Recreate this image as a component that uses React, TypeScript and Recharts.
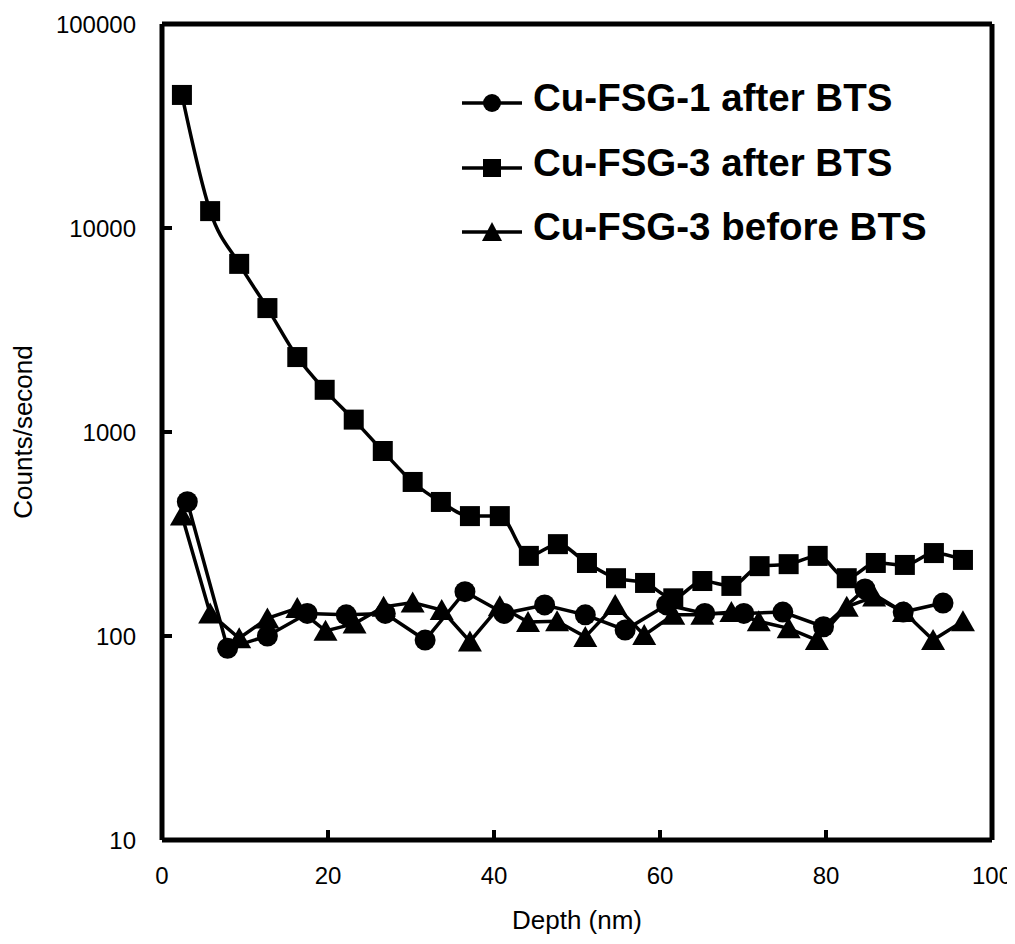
import React from 'react';
import { LineChart, Line, XAxis, YAxis, ReferenceLine, Legend, Label } from 'recharts';

const FONT = '"Liberation Sans", Arial, sans-serif';

// Cu-FSG-1 after BTS (circles)
const fsg1AfterDepth = [3.05, 7.9, 12.7, 17.5, 22.2, 26.9, 31.7, 36.5, 41.2, 46.1, 51.0, 55.8, 60.8, 65.4, 70.1, 74.8, 79.7, 84.7, 89.3, 94.1];
const fsg1AfterCounts = [455, 87, 100, 129, 127, 129, 95.5, 165, 129, 142, 127, 107, 142, 129, 129, 131, 111, 170, 131, 145];

// Cu-FSG-3 after BTS (squares)
const fsg3AfterDepth = [2.4, 5.8, 9.3, 12.7, 16.3, 19.6, 23.1, 26.6, 30.2, 33.6, 37.1, 40.7, 44.2, 47.7, 51.2, 54.7, 58.2, 61.6, 65.1, 68.6, 72.0, 75.5, 79.0, 82.5, 86.0, 89.5, 93.0, 96.5];
const fsg3AfterCounts = [44900, 12100, 6670, 4050, 2330, 1610, 1150, 807, 569, 454, 387, 387, 247, 282, 228, 192, 182, 153, 186, 176, 220, 225, 247, 192, 228, 223, 255, 236];

// Cu-FSG-3 before BTS (triangles)
const fsg3BeforeDepth = [2.4, 5.8, 9.3, 12.7, 16.3, 19.7, 23.2, 26.7, 30.2, 33.7, 37.1, 40.7, 44.1, 47.6, 51.0, 54.6, 58.1, 61.6, 65.1, 68.6, 71.9, 75.5, 78.9, 82.5, 85.8, 89.4, 92.9, 96.5];
const fsg3BeforeCounts = [390, 129, 97.5, 122, 137, 106, 115, 139, 146, 134, 94, 140, 117, 118, 99, 142, 101, 127, 127, 131, 118, 109, 95.5, 139, 156, 131, 95.5, 118];

const xTicks = [0, 20, 40, 60, 80, 100];
const yTicks = [10, 100, 1000, 10000, 100000];

const seriesNames = ['Cu-FSG-1 after BTS', 'Cu-FSG-3 after BTS', 'Cu-FSG-3 before BTS'];

const toRows = (xs: number[], ys: number[]) => xs.map((x, i) => ({ x, y: ys[i] }));
const fsg1After = toRows(fsg1AfterDepth, fsg1AfterCounts);
const fsg3After = toRows(fsg3AfterDepth, fsg3AfterCounts);
const fsg3Before = toRows(fsg3BeforeDepth, fsg3BeforeCounts);

const CircleDot = (p: any) =>
  p.cx == null ? null : <circle key={`c${p.index}`} cx={p.cx} cy={p.cy} r={10.5} fill="#000" />;
const SquareDot = (p: any) =>
  p.cx == null ? null : <rect key={`s${p.index}`} x={p.cx - 10} y={p.cy - 10} width={20} height={20} fill="#000" />;
const TriDot = (p: any) =>
  p.cx == null ? null : (
    <polygon key={`t${p.index}`} points={`${p.cx},${p.cy - 11} ${p.cx + 12},${p.cy + 10} ${p.cx - 12},${p.cy + 10}`} fill="#000" />
  );

const legendMarker = (kind: number) => {
  if (kind === 0) return <circle cx={30} cy={32} r={9} fill="#000" />;
  if (kind === 1) return <rect x={21} y={23} width={18} height={18} fill="#000" />;
  return <polygon points="30,22 40,41 20,41" fill="#000" />;
};

const LegendContent = () => (
  <div style={{ fontFamily: FONT }}>
    {seriesNames.map((n, i) => (
      <div key={n} style={{ display: 'flex', alignItems: 'center', height: 64.5 }}>
        <svg width={60} height={64} style={{ marginRight: 11, display: 'block' }}>
          <line x1={0} y1={32} x2={60} y2={32} stroke="#000" strokeWidth={3.5} />
          {legendMarker(i)}
        </svg>
        <span style={{ fontSize: 38.5, fontWeight: 'bold', color: '#000', position: 'relative', top: -5, whiteSpace: 'nowrap' }}>{n}</span>
      </div>
    ))}
  </div>
);

export default function App() {
  return (
    <div style={{ width: 1007, height: 930, background: '#fff' }}>
      <LineChart width={1007} height={930} margin={{ top: 16, right: 23, left: 0, bottom: 0 }}>
        <XAxis
          type="number"
          dataKey="x"
          domain={[0, 100]}
          ticks={xTicks}
          height={98}
          stroke="#000"
          strokeWidth={5}
          tickSize={-10}
          tickMargin={37}
          tick={{ fill: '#000', fontSize: 24, fontFamily: FONT }}
          tickLine={{ stroke: '#000', strokeWidth: 4 }}
          allowDataOverflow
        >
          <Label value="Depth (nm)" position="insideBottom" offset={9} style={{ fill: '#000', fontSize: 26, fontFamily: FONT }} />
        </XAxis>
        <YAxis
          type="number"
          dataKey="y"
          scale="log"
          domain={[10, 100000]}
          ticks={yTicks}
          width={154}
          stroke="#000"
          strokeWidth={5}
          tickSize={-10}
          tickMargin={36}
          tick={{ fill: '#000', fontSize: 24, fontFamily: FONT }}
          tickLine={{ stroke: '#000', strokeWidth: 4 }}
          allowDataOverflow
        >
          <Label value="Counts/second" angle={-90} position="center" dx={-62} style={{ fill: '#000', fontSize: 26, fontFamily: FONT, textAnchor: 'middle' }} />
        </YAxis>
        <ReferenceLine y={100000} stroke="#000" strokeWidth={5} />
        <ReferenceLine x={100} stroke="#000" strokeWidth={5} />
        <Legend
          layout="vertical"
          verticalAlign="middle"
          align="center"
          content={<LegendContent />}
          wrapperStyle={{ position: 'absolute', left: 454, top: 63, width: 'auto', height: 'auto' }}
        />
        <Line data={fsg1After} dataKey="y" name={seriesNames[0]} type="linear" stroke="#000" strokeWidth={3.5} dot={CircleDot} activeDot={false} isAnimationActive={false} />
        <Line data={fsg3After} dataKey="y" name={seriesNames[1]} type="monotone" stroke="#000" strokeWidth={3.5} dot={SquareDot} activeDot={false} isAnimationActive={false} />
        <Line data={fsg3Before} dataKey="y" name={seriesNames[2]} type="linear" stroke="#000" strokeWidth={3.5} dot={TriDot} activeDot={false} isAnimationActive={false} />
      </LineChart>
    </div>
  );
}
